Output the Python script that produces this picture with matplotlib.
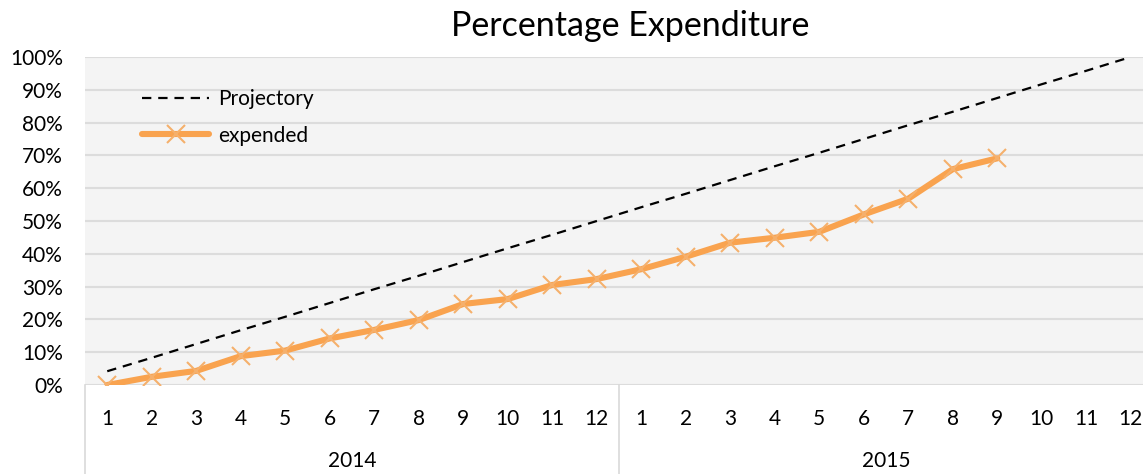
import matplotlib.pyplot as plt
from matplotlib.transforms import blended_transform_factory

plt.rcParams['font.family'] = ['Lato', 'DejaVu Sans']

years = ['2014', '2015']
months = [str(m) for m in range(1, 13)] * 2

# projected share of budget spent
projectory = [4.2, 8.3, 12.5, 16.7, 20.8, 25.0, 29.2, 33.3, 37.5, 41.7, 45.8, 50.0,
              54.2, 58.3, 62.5, 66.7, 70.8, 75.0, 79.2, 83.3, 87.5, 91.7, 95.8, 100.0]
# actual share spent (2015 stops at September)
expended = [0.0, 2.5, 4.3, 8.8, 10.5, 14.2, 16.8, 19.8, 24.7, 26.2, 30.5, 32.3,
            35.3, 39.1, 43.4, 44.9, 46.7, 52.0, 56.8, 65.8, 69.1]

W, H = 1143, 474
fig = plt.figure(figsize=(W / 100, H / 100), dpi=100)
left, right, top, bottom = 85, 1153, 57, 385
ax = fig.add_axes([left / W, 1 - bottom / H, (right - left) / W, (bottom - top) / H])
ax.set_facecolor('#F4F4F4')

x_proj = list(range(1, len(projectory) + 1))
x_exp = list(range(1, len(expended) + 1))

ax.plot(x_proj, projectory, color='black', lw=1.6, dashes=(4.2, 3.1), label='Projectory')
ax.plot(x_exp, expended, color='#F9A34F', lw=4.4, marker='x', ms=12.5, mew=1.5,
        mec='#F5B06C', label='expended', solid_capstyle='round')

ax.set_xlim(0.5, 24.5)
ax.set_ylim(0, 100)
ax.set_yticks(range(0, 101, 10))
ax.set_yticklabels([f'{v}%' for v in range(0, 101, 10)])
ax.set_xticks(x_proj)
ax.set_xticklabels(months)
ax.tick_params(axis='both', length=0, labelsize=15, colors='black')
ax.tick_params(axis='y', pad=16)
ax.tick_params(axis='x', pad=17)
ax.grid(axis='y', color='#DCDCDC', lw=1.5)
ax.set_axisbelow(True)
for s in ax.spines.values():
    s.set_visible(False)

# two-level category axis: year labels and separators
trans = blended_transform_factory(ax.transData, ax.transAxes)
depth = (H - bottom) / (bottom - top)
for xs in [0.5, 12.5, 24.5]:
    ax.plot([xs, xs], [0, -depth], color='#D9D9D9', lw=1.2, transform=trans, clip_on=False)
for i, yr in enumerate(years):
    ax.text(6.5 + 12 * i, -(461 - bottom) / (bottom - top), yr, transform=trans,
            ha='center', va='center', fontsize=15)

fig.text(630 / W, 1 - 26 / H, 'Percentage Expenditure', ha='center', va='center', fontsize=24.5)

leg = ax.legend(loc='upper left', bbox_to_anchor=(0.036, 0.96), frameon=False,
                fontsize=15, handlelength=3.2, handletextpad=0.45, labelspacing=0.8)

fig.savefig('out.png', dpi=100)
